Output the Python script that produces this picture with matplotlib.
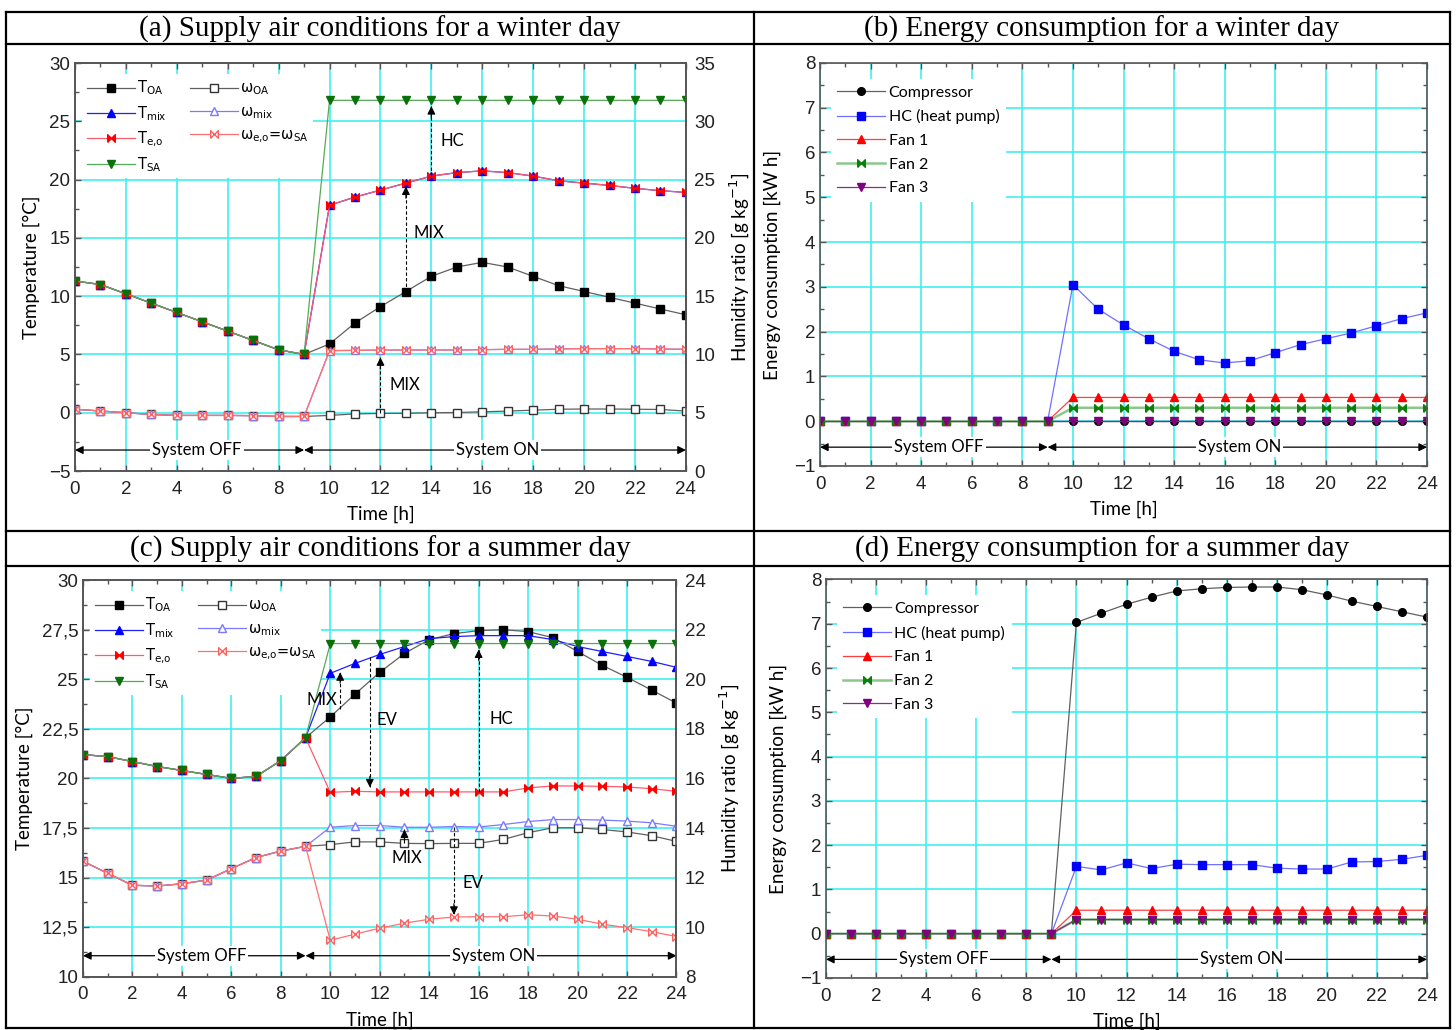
import matplotlib
matplotlib.use("Agg")
import matplotlib.pyplot as plt
from matplotlib.lines import Line2D

# hours of the day
hours = list(range(25))

# ---- winter day: temperatures [degC] ----
w_t_oa = [11.3, 11.0, 10.2, 9.4, 8.6, 7.8, 7.0, 6.2, 5.4, 5.0,
          5.9, 7.7, 9.1, 10.4, 11.7, 12.5, 12.9, 12.5, 11.7, 10.9,
          10.4, 9.9, 9.4, 8.9, 8.4]
w_t_mix = [11.3, 11.0, 10.2, 9.4, 8.6, 7.8, 7.0, 6.2, 5.4, 5.0,
           17.8, 18.5, 19.1, 19.7, 20.3, 20.6, 20.75, 20.6, 20.3, 19.9,
           19.7, 19.5, 19.25, 19.05, 18.9]
w_t_eo = w_t_mix
w_t_sa = [11.3, 11.0, 10.2, 9.4, 8.6, 7.8, 7.0, 6.2, 5.4, 5.0] + [26.8] * 15

# ---- winter day: humidity ratios [g/kg] ----
w_w_oa = [5.3, 5.15, 5.0, 4.85, 4.77, 4.77, 4.77, 4.75, 4.68, 4.68,
          4.77, 4.9, 4.94, 4.95, 5.0, 5.02, 5.08, 5.14, 5.22, 5.3,
          5.32, 5.32, 5.3, 5.28, 5.14]
w_w_mix = [5.3, 5.15, 5.0, 4.85, 4.77, 4.77, 4.77, 4.75, 4.68, 4.68,
           10.33, 10.35, 10.38, 10.38, 10.38, 10.38, 10.41, 10.44, 10.44, 10.47,
           10.5, 10.5, 10.5, 10.47, 10.44]
w_w_eo = w_w_mix

# ---- summer day: temperatures [degC] ----
s_t_oa = [21.2, 21.1, 20.85, 20.6, 20.4, 20.2, 20.0, 20.1, 20.9, 22.05,
          23.1, 24.25, 25.35, 26.3, 27.0, 27.3, 27.45, 27.5, 27.4, 27.1,
          26.4, 25.7, 25.1, 24.45, 23.8]
s_t_mix = [21.2, 21.1, 20.85, 20.6, 20.4, 20.2, 20.0, 20.1, 20.9, 22.05,
           25.3, 25.8, 26.25, 26.65, 27.05, 27.15, 27.2, 27.2, 27.2, 27.0,
           26.65, 26.4, 26.15, 25.9, 25.6]
s_t_eo = [21.2, 21.1, 20.85, 20.6, 20.4, 20.2, 20.0, 20.1, 20.9, 22.05,
          19.3, 19.35, 19.32, 19.32, 19.32, 19.32, 19.32, 19.32, 19.52, 19.62,
          19.62, 19.6, 19.57, 19.48, 19.35]
s_t_sa = [21.2, 21.1, 20.85, 20.6, 20.4, 20.2, 20.0, 20.1, 20.9, 22.05] + [26.8] * 15

# ---- summer day: humidity ratios [g/kg] ----
s_w_oa = [12.66, 12.17, 11.69, 11.66, 11.75, 11.9, 12.36, 12.81, 13.07, 13.26,
          13.33, 13.44, 13.44, 13.38, 13.37, 13.38, 13.38, 13.54, 13.81, 14.01,
          14.01, 13.94, 13.84, 13.69, 13.46]
s_w_mix = [12.66, 12.17, 11.69, 11.66, 11.75, 11.9, 12.36, 12.81, 13.07, 13.26,
           14.03, 14.1, 14.1, 14.03, 14.03, 14.06, 14.04, 14.14, 14.26, 14.34,
           14.34, 14.32, 14.28, 14.21, 14.07]
s_w_eo = [12.66, 12.17, 11.69, 11.66, 11.75, 11.9, 12.36, 12.81, 13.07, 13.26,
          9.47, 9.72, 9.96, 10.16, 10.32, 10.41, 10.42, 10.42, 10.5, 10.45,
          10.32, 10.12, 9.98, 9.82, 9.62]

# ---- energy consumption [kW h] ----
off = [0.0] * 10
w_comp = off + [0.0] * 15
w_hc = off + [3.05, 2.5, 2.15, 1.84, 1.56, 1.37, 1.3, 1.35, 1.53, 1.71,
              1.84, 1.97, 2.13, 2.29, 2.42]
w_fan1 = off + [0.53] * 15
w_fan2 = off + [0.3] * 15
w_fan3 = off + [0.0] * 15

s_comp = off + [7.03, 7.24, 7.44, 7.6, 7.74, 7.79, 7.82, 7.83, 7.83, 7.77,
                7.65, 7.51, 7.39, 7.27, 7.15]
s_hc = off + [1.52, 1.44, 1.6, 1.47, 1.57, 1.56, 1.56, 1.56, 1.48, 1.46,
              1.46, 1.62, 1.63, 1.68, 1.77]
s_fan1 = off + [0.53] * 15
s_fan2 = off + [0.32] * 15
s_fan3 = off + [0.32] * 15

# bowtie marker (two triangles meeting in the middle)
bowtie = [(-1, -1), (-1, 1), (0, 0), (1, 1), (1, -1), (0, 0), (-1, -1)]

tick_font = "Liberation Sans"
label_font = "Lato"
grid_col = "#40f0f0"
spine_col = "#555555"
tick_size = 13.5
label_size = 13.5


def style_axis(ax, yticks, ylim, ytick_labels=None, right=False):
    ax.set_xlim(0, 24)
    ax.set_ylim(*ylim)
    ax.set_xticks(range(0, 25, 2))
    ax.set_xticks(range(1, 25, 2), minor=True)
    ax.set_yticks(yticks)
    if ytick_labels is not None:
        ax.set_yticklabels(ytick_labels)
    ax.grid(True, which="major", color=grid_col, lw=1.2)
    ax.set_axisbelow(True)
    ax.tick_params(which="both", direction="in", top=True, right=right,
                   colors=spine_col, labelcolor="#222222", labelsize=tick_size,
                   length=4, width=1)
    ax.tick_params(which="minor", length=3)
    ax.tick_params(axis="x", pad=7)
    for lab in ax.get_xticklabels() + ax.get_yticklabels():
        lab.set_fontfamily(tick_font)
    for sp in ax.spines.values():
        sp.set_color(spine_col)
        sp.set_linewidth(1.2)
    ax.set_xlabel("Time [h]", fontfamily=label_font, fontsize=label_size,
                  labelpad=6)


def system_arrows(ax, y, x_off=4.75, x_on=16.6):
    arrow = dict(arrowstyle="<|-|>", color="black", lw=0.9,
                 shrinkA=0, shrinkB=0, mutation_scale=12)
    ax.annotate("", xy=(0, y), xytext=(9, y), arrowprops=arrow)
    ax.annotate("", xy=(9, y), xytext=(24, y), arrowprops=arrow)
    box = dict(facecolor="white", edgecolor="none", pad=1.5)
    ax.text(x_off, y, "System OFF", ha="center", va="center", fontsize=12,
            fontfamily=label_font, bbox=box)
    ax.text(x_on, y, "System ON", ha="center", va="center", fontsize=12,
            fontfamily=label_font, bbox=box)


def dashed_arrow(ax, x, y0, y1, head=0.6):
    ax.plot([x, x], [y0, y1], color="black", lw=0.8, ls=(0, (3, 2)), zorder=6)
    step = head if y1 > y0 else -head
    ax.annotate("", xy=(x, y1), xytext=(x, y1 - step),
                arrowprops=dict(arrowstyle="-|>", color="black", lw=0.8,
                                shrinkA=0, shrinkB=0, mutation_scale=12),
                zorder=6)


def note(ax, x, y, s, ha="left"):
    ax.text(x, y, s, ha=ha, va="center", fontsize=12,
            fontfamily=label_font, zorder=7)


def supply_panel(ax, t_oa, t_mix, t_eo, t_sa, w_oa, w_mix, w_eo, wlim):
    ms = 5.5
    lw = 0.9
    h1, = ax.plot(hours, t_oa, color="#606060", lw=lw, marker="s", ms=ms,
                  mfc="black", mec="black", label=r"T$_{\mathregular{OA}}$")
    h2, = ax.plot(hours, t_mix, color="#2020ff", lw=lw, marker="^", ms=ms,
                  mfc="#0000ff", mec="#0000ff", label=r"T$_{\mathregular{mix}}$")
    h3, = ax.plot(hours, t_eo, color="#ff5a6e", lw=lw, marker=bowtie, ms=ms,
                  mfc="#ff0000", mec="#ff0000",
                  label=r"T$_{\mathregular{e{,}o}}$")
    h4, = ax.plot(hours, t_sa, color="#55aa55", lw=lw, marker="v", ms=ms,
                  mfc="#0a700a", mec="#0a700a", label=r"T$_{\mathregular{SA}}$",
                  zorder=3)

    ax2 = ax.twinx()
    ax2.set_ylim(*wlim)
    h5, = ax2.plot(hours, w_oa, color="#606060", lw=lw, marker="s", ms=ms,
                   mfc="white", mec="#333333",
                   label=r"$\mathregular{\omega_{OA}}$")
    h6, = ax2.plot(hours, w_mix, color="#7a7aff", lw=lw, marker="^", ms=ms,
                   mfc="white", mec="#7a7aff",
                   label=r"$\mathregular{\omega_{mix}}$")
    h7, = ax2.plot(hours, w_eo, color="#ff7070", lw=lw, marker=bowtie, ms=ms,
                   mfc="white", mec="#ff6060",
                   label=r"$\mathregular{\omega_{e{,}o}}$=$\mathregular{\omega_{SA}}$")
    for sp in ax2.spines.values():
        sp.set_color(spine_col)
        sp.set_linewidth(1.2)
    ax2.tick_params(direction="in", colors=spine_col, labelcolor="#222222",
                    labelsize=tick_size, length=0, pad=6)
    ax2.set_ylabel(r"Humidity ratio [g kg$^{-1}$]", fontfamily=label_font,
                   fontsize=label_size, labelpad=9)

    # legend sits above the grid but under the curves
    leg = ax.legend(handles=[h1, h2, h3, h4, h5, h6, h7], ncol=2,
                    loc="upper left", bbox_to_anchor=(0.0, 0.99),
                    frameon=True, facecolor="white", edgecolor="none",
                    framealpha=1, fancybox=False, handlelength=3.3,
                    handletextpad=0.15, columnspacing=1.6, labelspacing=0.45,
                    borderpad=0.3, prop={"family": "DejaVu Sans", "size": 10.5})
    leg.set_zorder(1.5)
    ax.set_ylabel("Temperature [°C]", fontfamily=label_font,
                  fontsize=label_size, labelpad=6)
    return ax2


def energy_panel(ax, comp, hc, fan1, fan2, fan3):
    ms = 5.5
    ax.plot(hours, comp, color="#606060", lw=0.9, marker="o", ms=ms,
            mfc="black", mec="black", label="Compressor")
    ax.plot(hours, hc, color="#7070ff", lw=0.9, marker="s", ms=ms,
            mfc="#0000ff", mec="#0000ff", label="HC (heat pump)")
    ax.plot(hours, fan1, color="#ff4040", lw=0.9, marker="^", ms=ms,
            mfc="#ff0000", mec="#ff0000", label="Fan 1")
    ax.plot(hours, fan2, color="#8cc88c", lw=1.8, marker=bowtie, ms=ms,
            mfc="#0a800a", mec="#0a800a", label="Fan 2")
    ax.plot(hours, fan3, color="#8a2a8a", lw=0.9, marker="v", ms=ms,
            mfc="#800080", mec="#800080", label="Fan 3")
    style_axis(ax, range(-1, 9), (-1, 8), right=True)
    ax.set_yticks([-0.5 + i for i in range(9)], minor=True)
    ax.set_ylabel("Energy consumption [kW h]", fontfamily=label_font,
                  fontsize=label_size, labelpad=9)
    leg = ax.legend(loc="upper left", bbox_to_anchor=(0.005, 0.98),
                    frameon=True, facecolor="white", edgecolor="none",
                    framealpha=1, fancybox=False, handlelength=3.0,
                    labelspacing=0.6, handletextpad=0.2,
                    prop={"family": label_font, "size": 11.5})
    leg.set_zorder(1.5)
    system_arrows(ax, -0.58, x_off=4.7, x_on=16.6)


fig = plt.figure(figsize=(14.56, 10.30), dpi=100)

# (a) winter supply air
ax_a = fig.add_axes([0.0515, 0.5427, 0.4196, 0.3961])
style_axis(ax_a, range(-5, 31, 5), (-5, 30))
ax_a.set_yticks([-2.5 + 5 * i for i in range(7)], minor=True)
ax_a2 = supply_panel(ax_a, w_t_oa, w_t_mix, w_t_eo, w_t_sa,
                     w_w_oa, w_w_mix, w_w_eo, (0, 35))
ax_a2.set_yticks(range(0, 36, 5))
for lab in ax_a2.get_yticklabels():
    lab.set_fontfamily(tick_font)
system_arrows(ax_a, -3.2, x_off=4.8, x_on=16.6)
dashed_arrow(ax_a, 14, w_t_eo[14], 26.3, head=1.0)
note(ax_a, 14.35, 23.3, "HC")
dashed_arrow(ax_a, 13, w_t_oa[13], 19.4, head=1.0)
note(ax_a, 13.3, 15.4, "MIX")
dashed_arrow(ax_a2, 12, w_w_oa[12], 9.75, head=1.0)
note(ax_a2, 12.35, 7.35, "MIX")

# (b) winter energy
ax_b = fig.add_axes([0.5632, 0.5476, 0.4169, 0.3913])
energy_panel(ax_b, w_comp, w_hc, w_fan1, w_fan2, w_fan3)

# (c) summer supply air
ax_c = fig.add_axes([0.0570, 0.0517, 0.4076, 0.3851])
c_ticks = [10, 12.5, 15, 17.5, 20, 22.5, 25, 27.5, 30]
style_axis(ax_c, c_ticks, (10, 30),
           [f"{v:g}".replace(".", ",") for v in c_ticks])
ax_c.set_yticks([11.25 + 2.5 * i for i in range(8)], minor=True)
ax_c2 = supply_panel(ax_c, s_t_oa, s_t_mix, s_t_eo, s_t_sa,
                     s_w_oa, s_w_mix, s_w_eo, (8, 24))
ax_c2.set_yticks(range(8, 25, 2))
for lab in ax_c2.get_yticklabels():
    lab.set_fontfamily(tick_font)
system_arrows(ax_c, 11.06, x_off=4.8, x_on=16.6)
dashed_arrow(ax_c, 10.4, 23.5, 25.35, head=0.55)
note(ax_c, 10.3, 23.95, "MIX", ha="right")
dashed_arrow(ax_c, 11.6, 26.1, 19.55, head=0.55)
note(ax_c, 11.85, 22.95, "EV")
dashed_arrow(ax_c, 16, s_t_eo[16], 26.5, head=0.55)
note(ax_c, 16.45, 23.0, "HC")
dashed_arrow(ax_c2, 13, s_w_oa[13], 13.94, head=0.45)
note(ax_c2, 13.1, 12.78, "MIX", ha="center")
dashed_arrow(ax_c2, 15, s_w_mix[15], 10.5, head=0.45)
note(ax_c2, 15.35, 11.77, "EV")

# (d) summer energy
ax_d = fig.add_axes([0.5673, 0.0505, 0.4128, 0.3869])
energy_panel(ax_d, s_comp, s_hc, s_fan1, s_fan2, s_fan3)

# table frame and cell titles
W, H = 1456.0, 1030.0
frame = [((6, 12), (1450, 12)), ((6, 44), (1450, 44)),
         ((6, 531), (1450, 531)), ((6, 566), (1450, 566)),
         ((6, 1028), (1450, 1028)), ((6, 12), (6, 1028)),
         ((1450, 12), (1450, 1028)), ((754, 12), (754, 1028))]
for (x0, y0), (x1, y1) in frame:
    fig.add_artist(Line2D([x0 / W, x1 / W], [1 - y0 / H, 1 - y1 / H],
                          color="black", lw=1.6))

titles = [(380, 29, "(a) Supply air conditions for a winter day"),
          (1102, 29, "(b) Energy consumption for a winter day"),
          (380, 549, "(c) Supply air conditions for a summer day"),
          (1102, 549, "(d) Energy consumption for a summer day")]
for x, y, s in titles:
    fig.text(x / W, 1 - y / H, s, ha="center", va="center",
             fontfamily="Liberation Serif", fontsize=21)

fig.savefig("out.png", dpi=100, facecolor="white")
